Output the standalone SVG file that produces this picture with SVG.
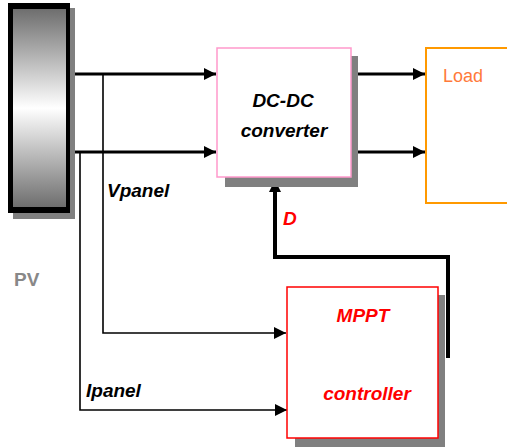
<svg xmlns="http://www.w3.org/2000/svg" width="507" height="448" viewBox="0 0 507 448">
<defs>
<linearGradient id="pvg" x1="0" y1="0" x2="0" y2="1">
<stop offset="0" stop-color="#6e6e6e"/>
<stop offset="0.5" stop-color="#ffffff"/>
<stop offset="1" stop-color="#6e6e6e"/>
</linearGradient>
<marker id="ah" viewBox="0 0 10 10" refX="10" refY="5" markerWidth="14" markerHeight="12" markerUnits="userSpaceOnUse" orient="auto">
<path d="M0,0 L10,5 L0,10 z" fill="#000"/>
</marker>
</defs>
<style>
.shadow{fill:#808080}
.lbl{font-family:"Liberation Sans",Arial,sans-serif;font-style:italic;font-weight:bold}
.thick{stroke:#000;stroke-width:3;fill:none}
.thin{stroke:#000;stroke-width:1.6;fill:none}
</style>
<rect width="507" height="448" fill="#fff"/>
<g id="connectors">
<path class="thick" d="M70,74 H216" marker-end="url(#ah)"/>
<path class="thick" d="M70,152 H216" marker-end="url(#ah)"/>
<path class="thick" d="M351,74 H425" marker-end="url(#ah)"/>
<path class="thick" d="M351,152 H425" marker-end="url(#ah)"/>
<path class="thin" d="M103,74 V333 H286" marker-end="url(#ah)"/>
<path class="thin" d="M80,152 V410 H287" marker-end="url(#ah)"/>
<path d="M448,358 V257 H275 V180" stroke="#000" stroke-width="4" fill="none" marker-end="url(#ah)"/>
<text class="lbl" x="107" y="197" font-size="19" fill="#000">Vpanel</text>
<text class="lbl" x="86" y="397" font-size="19" fill="#000">Ipanel</text>
<text class="lbl" x="283" y="225" font-size="19" fill="#ff0000">D</text>
</g>
<g id="pv">
<rect class="shadow" x="13" y="8" width="62" height="211"/>
<rect x="8" y="3" width="62" height="210" fill="#000"/>
<rect x="13" y="9" width="53" height="198" fill="url(#pvg)"/>
<text x="14" y="286" font-family="'Liberation Sans',Arial,sans-serif" font-weight="bold" font-size="19" fill="#888">PV</text>
</g>
<g id="dcdc">
<rect class="shadow" x="225" y="56" width="133" height="131"/>
<rect x="217" y="48" width="134" height="129" fill="#fff" stroke="#ff99cc" stroke-width="1.5"/>
<text class="lbl" x="283" y="107" font-size="19" text-anchor="middle" fill="#000">DC-DC</text>
<text class="lbl" x="284" y="137" font-size="19" text-anchor="middle" fill="#000">converter</text>
</g>
<g id="load">
<rect x="426" y="48" width="90" height="155" fill="#fff" stroke="#ff9900" stroke-width="2"/>
<text x="443" y="82" font-family="'Liberation Sans',Arial,sans-serif" font-size="18" fill="#ff7a3a">Load</text>
</g>
<g id="mppt">
<rect class="shadow" x="295" y="295" width="150" height="152"/>
<rect x="287" y="287" width="151" height="151" fill="#fff" stroke="#ff0000" stroke-width="1.5"/>
<text class="lbl" x="363" y="322" font-size="19" text-anchor="middle" fill="#ff0000">MPPT</text>
<text class="lbl" x="367" y="400" font-size="19" text-anchor="middle" fill="#ff0000">controller</text>
</g>
</svg>
